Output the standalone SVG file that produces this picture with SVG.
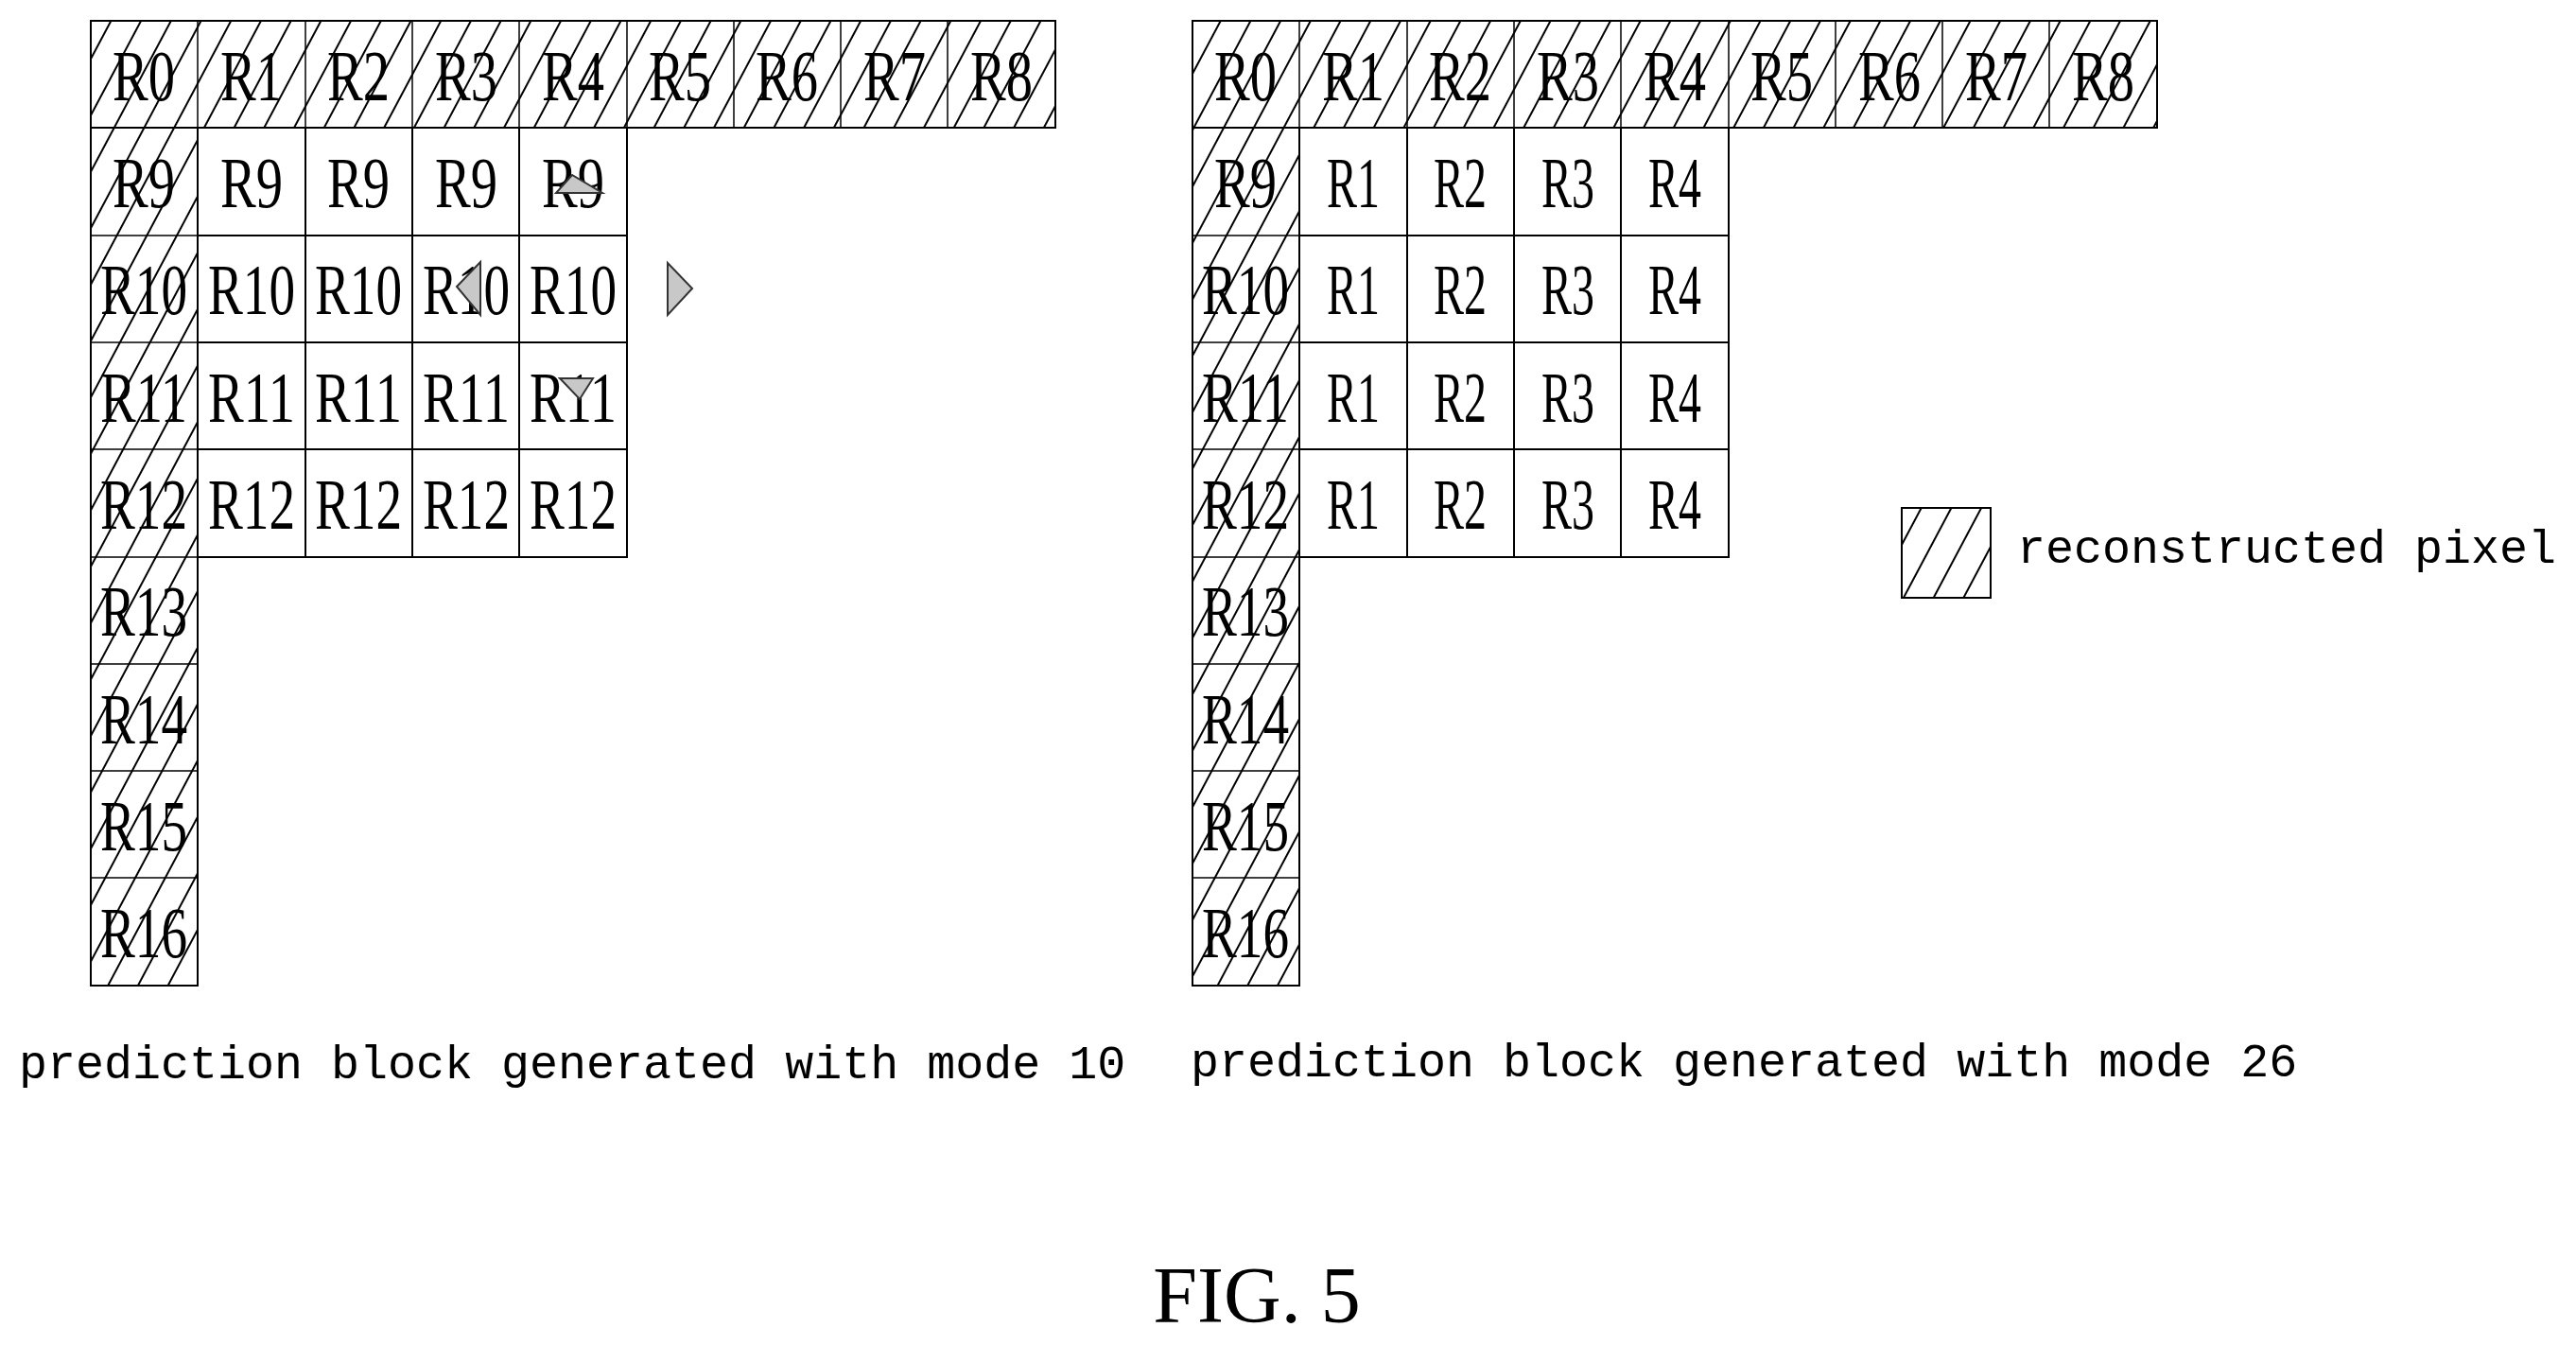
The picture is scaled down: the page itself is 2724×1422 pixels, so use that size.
<svg xmlns="http://www.w3.org/2000/svg" width="2724" height="1422" viewBox="0 0 2724 1422">
<defs>
<pattern id="h" patternUnits="userSpaceOnUse" width="28" height="28" patternTransform="rotate(28)"><line x1="2" y1="0" x2="2" y2="28" stroke="#000" stroke-width="2"/></pattern>
<style>
.hc{fill:url(#h);stroke:#000;stroke-width:2}
.wc{fill:#fff;stroke:#000;stroke-width:2}
.t{font-family:"Liberation Serif",serif;font-size:76px;text-anchor:middle;fill:#000}
.m{font-family:"Liberation Mono",monospace;font-size:50px;fill:#000}
.tri{fill:#c8c8c8;stroke:#333;stroke-width:2}
</style>
</defs>
<rect width="2724" height="1422" fill="#fff"/>
<g id="left">
<g id="L-top">
<rect class="hc" x="96" y="22" width="1020" height="113"/>
<path d="M209 22V135M323 22V135M436 22V135M549 22V135M663 22V135M776 22V135M889 22V135M1002 22V135" stroke="#000" stroke-width="1.5"/>
<text class="t" x="152" y="106" textLength="66" lengthAdjust="spacingAndGlyphs">R0</text>
<text class="t" x="266" y="106" textLength="66" lengthAdjust="spacingAndGlyphs">R1</text>
<text class="t" x="379" y="106" textLength="66" lengthAdjust="spacingAndGlyphs">R2</text>
<text class="t" x="493" y="106" textLength="66" lengthAdjust="spacingAndGlyphs">R3</text>
<text class="t" x="606" y="106" textLength="66" lengthAdjust="spacingAndGlyphs">R4</text>
<text class="t" x="719" y="106" textLength="66" lengthAdjust="spacingAndGlyphs">R5</text>
<text class="t" x="832" y="106" textLength="66" lengthAdjust="spacingAndGlyphs">R6</text>
<text class="t" x="946" y="106" textLength="66" lengthAdjust="spacingAndGlyphs">R7</text>
<text class="t" x="1059" y="106" textLength="66" lengthAdjust="spacingAndGlyphs">R8</text>
</g>
<g id="L-side">
<rect class="hc" x="96" y="135" width="113" height="907"/>
<path d="M96 249H209M96 362H209M96 475H209M96 589H209M96 702H209M96 815H209M96 928H209" stroke="#000" stroke-width="1.5"/>
<text class="t" x="152" y="219" textLength="66" lengthAdjust="spacingAndGlyphs">R9</text>
<text class="t" x="152" y="332" textLength="92" lengthAdjust="spacingAndGlyphs">R10</text>
<text class="t" x="152" y="446" textLength="92" lengthAdjust="spacingAndGlyphs">R11</text>
<text class="t" x="152" y="559" textLength="92" lengthAdjust="spacingAndGlyphs">R12</text>
<text class="t" x="152" y="672" textLength="92" lengthAdjust="spacingAndGlyphs">R13</text>
<text class="t" x="152" y="786" textLength="92" lengthAdjust="spacingAndGlyphs">R14</text>
<text class="t" x="152" y="899" textLength="92" lengthAdjust="spacingAndGlyphs">R15</text>
<text class="t" x="152" y="1012" textLength="92" lengthAdjust="spacingAndGlyphs">R16</text>
</g>
<g id="L-block">
<rect class="wc" x="209" y="135" width="454" height="454"/>
<path d="M323 135V589M436 135V589M549 135V589M209 249H663M209 362H663M209 475H663" stroke="#000" stroke-width="2"/>
<text class="t" x="266" y="219" textLength="66" lengthAdjust="spacingAndGlyphs">R9</text>
<text class="t" x="379" y="219" textLength="66" lengthAdjust="spacingAndGlyphs">R9</text>
<text class="t" x="493" y="219" textLength="66" lengthAdjust="spacingAndGlyphs">R9</text>
<text class="t" x="606" y="219" textLength="66" lengthAdjust="spacingAndGlyphs">R9</text>
<text class="t" x="266" y="332" textLength="92" lengthAdjust="spacingAndGlyphs">R10</text>
<text class="t" x="379" y="332" textLength="92" lengthAdjust="spacingAndGlyphs">R10</text>
<text class="t" x="493" y="332" textLength="92" lengthAdjust="spacingAndGlyphs">R10</text>
<text class="t" x="606" y="332" textLength="92" lengthAdjust="spacingAndGlyphs">R10</text>
<text class="t" x="266" y="446" textLength="92" lengthAdjust="spacingAndGlyphs">R11</text>
<text class="t" x="379" y="446" textLength="92" lengthAdjust="spacingAndGlyphs">R11</text>
<text class="t" x="493" y="446" textLength="92" lengthAdjust="spacingAndGlyphs">R11</text>
<text class="t" x="606" y="446" textLength="92" lengthAdjust="spacingAndGlyphs">R11</text>
<text class="t" x="266" y="559" textLength="92" lengthAdjust="spacingAndGlyphs">R12</text>
<text class="t" x="379" y="559" textLength="92" lengthAdjust="spacingAndGlyphs">R12</text>
<text class="t" x="493" y="559" textLength="92" lengthAdjust="spacingAndGlyphs">R12</text>
<text class="t" x="606" y="559" textLength="92" lengthAdjust="spacingAndGlyphs">R12</text>
<polygon class="tri" points="588,204 637,204 605,185"/>
<polygon class="tri" points="483,303 508,277 508,333"/>
<polygon class="tri" points="592,400 627,400 613,422"/>
</g>
<polygon id="arrow" class="tri" points="706,278 706,333 732,305"/>
<text class="m" x="20" y="1140">prediction block generated with mode 10</text>
</g>
<g id="right">
<g id="R-top">
<rect class="hc" x="1261" y="22" width="1020" height="113"/>
<path d="M1374 22V135M1488 22V135M1601 22V135M1714 22V135M1828 22V135M1941 22V135M2054 22V135M2167 22V135" stroke="#000" stroke-width="1.5"/>
<text class="t" x="1317" y="106" textLength="66" lengthAdjust="spacingAndGlyphs">R0</text>
<text class="t" x="1431" y="106" textLength="66" lengthAdjust="spacingAndGlyphs">R1</text>
<text class="t" x="1544" y="106" textLength="66" lengthAdjust="spacingAndGlyphs">R2</text>
<text class="t" x="1658" y="106" textLength="66" lengthAdjust="spacingAndGlyphs">R3</text>
<text class="t" x="1771" y="106" textLength="66" lengthAdjust="spacingAndGlyphs">R4</text>
<text class="t" x="1884" y="106" textLength="66" lengthAdjust="spacingAndGlyphs">R5</text>
<text class="t" x="1998" y="106" textLength="66" lengthAdjust="spacingAndGlyphs">R6</text>
<text class="t" x="2111" y="106" textLength="66" lengthAdjust="spacingAndGlyphs">R7</text>
<text class="t" x="2224" y="106" textLength="66" lengthAdjust="spacingAndGlyphs">R8</text>
</g>
<g id="R-side">
<rect class="hc" x="1261" y="135" width="113" height="907"/>
<path d="M1261 249H1374M1261 362H1374M1261 475H1374M1261 589H1374M1261 702H1374M1261 815H1374M1261 928H1374" stroke="#000" stroke-width="1.5"/>
<text class="t" x="1317" y="219" textLength="66" lengthAdjust="spacingAndGlyphs">R9</text>
<text class="t" x="1317" y="332" textLength="92" lengthAdjust="spacingAndGlyphs">R10</text>
<text class="t" x="1317" y="446" textLength="92" lengthAdjust="spacingAndGlyphs">R11</text>
<text class="t" x="1317" y="559" textLength="92" lengthAdjust="spacingAndGlyphs">R12</text>
<text class="t" x="1317" y="672" textLength="92" lengthAdjust="spacingAndGlyphs">R13</text>
<text class="t" x="1317" y="786" textLength="92" lengthAdjust="spacingAndGlyphs">R14</text>
<text class="t" x="1317" y="899" textLength="92" lengthAdjust="spacingAndGlyphs">R15</text>
<text class="t" x="1317" y="1012" textLength="92" lengthAdjust="spacingAndGlyphs">R16</text>
</g>
<g id="R-block">
<rect class="wc" x="1374" y="135" width="454" height="454"/>
<path d="M1488 135V589M1601 135V589M1714 135V589M1374 249H1828M1374 362H1828M1374 475H1828" stroke="#000" stroke-width="2"/>
<text class="t" x="1431" y="219" textLength="56" lengthAdjust="spacingAndGlyphs">R1</text>
<text class="t" x="1544" y="219" textLength="56" lengthAdjust="spacingAndGlyphs">R2</text>
<text class="t" x="1658" y="219" textLength="56" lengthAdjust="spacingAndGlyphs">R3</text>
<text class="t" x="1771" y="219" textLength="56" lengthAdjust="spacingAndGlyphs">R4</text>
<text class="t" x="1431" y="332" textLength="56" lengthAdjust="spacingAndGlyphs">R1</text>
<text class="t" x="1544" y="332" textLength="56" lengthAdjust="spacingAndGlyphs">R2</text>
<text class="t" x="1658" y="332" textLength="56" lengthAdjust="spacingAndGlyphs">R3</text>
<text class="t" x="1771" y="332" textLength="56" lengthAdjust="spacingAndGlyphs">R4</text>
<text class="t" x="1431" y="446" textLength="56" lengthAdjust="spacingAndGlyphs">R1</text>
<text class="t" x="1544" y="446" textLength="56" lengthAdjust="spacingAndGlyphs">R2</text>
<text class="t" x="1658" y="446" textLength="56" lengthAdjust="spacingAndGlyphs">R3</text>
<text class="t" x="1771" y="446" textLength="56" lengthAdjust="spacingAndGlyphs">R4</text>
<text class="t" x="1431" y="559" textLength="56" lengthAdjust="spacingAndGlyphs">R1</text>
<text class="t" x="1544" y="559" textLength="56" lengthAdjust="spacingAndGlyphs">R2</text>
<text class="t" x="1658" y="559" textLength="56" lengthAdjust="spacingAndGlyphs">R3</text>
<text class="t" x="1771" y="559" textLength="56" lengthAdjust="spacingAndGlyphs">R4</text>
</g>
<text class="m" x="1259" y="1138">prediction block generated with mode 26</text>
</g>
<g id="legend">
<rect class="hc" x="2011" y="537" width="94" height="95"/>
<text class="m" x="2133" y="595" fill="#444">reconstructed pixel</text>
</g>
<text x="1329" y="1398" font-family="Liberation Serif, serif" font-size="84" text-anchor="middle">FIG. 5</text>
</svg>
